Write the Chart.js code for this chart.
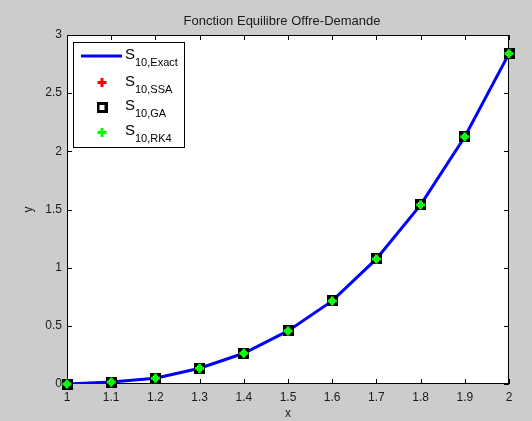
<!DOCTYPE html>
<html>
<head>
<meta charset="utf-8">
<script src="https://cdn.jsdelivr.net/npm/chart.js@4.4.0/dist/chart.umd.min.js"></script>
<style>
    html, body { margin: 0; padding: 0; background: #cccccc; }
    #wrap { width: 532px; height: 421px; }
</style>
</head>
<body>
<div id="wrap"><canvas id="chart" width="532" height="421"></canvas></div>
<script>
// values
const xValues = [1.0, 1.1, 1.2, 1.3, 1.4, 1.5, 1.6, 1.7, 1.8, 1.9, 2.0];
const exactValues = [0.0, 0.017, 0.05, 0.135, 0.264, 0.456, 0.714, 1.075, 1.54, 2.125, 2.84];
const ssaValues = [0.0, 0.017, 0.05, 0.135, 0.264, 0.456, 0.714, 1.075, 1.54, 2.125, 2.84];
const gaValues = [0.0, 0.017, 0.05, 0.135, 0.264, 0.456, 0.714, 1.075, 1.54, 2.125, 2.84];
const rk4Values = [0.0, 0.017, 0.05, 0.135, 0.264, 0.456, 0.714, 1.075, 1.54, 2.125, 2.84];

const chartTitle = 'Fonction Equilibre Offre-Demande';
const legendNames = [['S', '10,Exact'], ['S', '10,SSA'], ['S', '10,GA'], ['S', '10,RK4']];

const FONT = '"Liberation Sans", Arial, sans-serif';
const TEXT_COLOR = '#1a1a1a';

const toPoints = ys => xValues.map((x, i) => ({ x: x, y: ys[i] }));

function plusMarker(color) {
    const c = document.createElement('canvas');
    c.width = 11; c.height = 11;
    const g = c.getContext('2d');
    g.fillStyle = color;
    g.beginPath();
    g.moveTo(4, 1); g.lineTo(7, 1); g.lineTo(7, 4); g.lineTo(10, 4);
    g.lineTo(10, 7); g.lineTo(7, 7); g.lineTo(7, 10); g.lineTo(4, 10);
    g.lineTo(4, 7); g.lineTo(1, 7); g.lineTo(1, 4); g.lineTo(4, 4);
    g.closePath();
    g.fill();
    return c;
}

function squareMarker() {
    const c = document.createElement('canvas');
    c.width = 11; c.height = 11;
    const g = c.getContext('2d');
    g.fillStyle = '#000000';
    g.fillRect(0, 0, 11, 11);
    g.fillStyle = '#ffffff';
    g.fillRect(3, 3, 5, 5);
    return c;
}

const markers = {
    ssa: plusMarker('#ff0000'),
    ga: squareMarker(),
    rk4: plusMarker('#00ff00')
};

// grey figure, white axes, box and inward ticks like MATLAB
const axesBox = {
    id: 'axesBox',
    beforeDraw(chart) {
        const { ctx, chartArea: a } = chart;
        ctx.save();
        ctx.fillStyle = '#cccccc';
        ctx.fillRect(0, 0, chart.width, chart.height);
        ctx.fillStyle = '#ffffff';
        ctx.fillRect(a.left, a.top, a.right - a.left, a.bottom - a.top);
        ctx.fillStyle = TEXT_COLOR;
        ctx.font = '13px ' + FONT;
        ctx.textAlign = 'center';
        ctx.textBaseline = 'middle';
        ctx.fillText(chartTitle, 282, 21);
        ctx.restore();
    },
    beforeDatasetsDraw(chart) {
        const { ctx, chartArea: a, scales } = chart;
        ctx.save();
        ctx.strokeStyle = '#000000';
        ctx.lineWidth = 1;
        ctx.beginPath();
        scales.x.ticks.forEach(t => {
            const px = Math.round(scales.x.getPixelForValue(t.value)) + 0.5;
            ctx.moveTo(px, a.bottom); ctx.lineTo(px, a.bottom - 5);
            ctx.moveTo(px, a.top); ctx.lineTo(px, a.top + 5);
        });
        scales.y.ticks.forEach(t => {
            const py = Math.round(scales.y.getPixelForValue(t.value)) + 0.5;
            ctx.moveTo(a.left, py); ctx.lineTo(a.left + 5, py);
            ctx.moveTo(a.right, py); ctx.lineTo(a.right - 5, py);
        });
        ctx.stroke();
        ctx.strokeRect(a.left + 0.5, a.top + 0.5, a.right - a.left - 1, a.bottom - a.top - 1);
        ctx.restore();
    }
};

const subLegend = {
    id: 'subLegend',
    afterDraw(chart) {
        const ctx = chart.ctx;
        const box = { x: 73.5, y: 42.5, w: 111, h: 105 };
        const rows = [56, 82.5, 107, 132];
        ctx.save();
        ctx.fillStyle = '#ffffff';
        ctx.fillRect(box.x, box.y, box.w, box.h);
        ctx.strokeStyle = '#000000';
        ctx.lineWidth = 1;
        ctx.strokeRect(box.x, box.y, box.w, box.h);

        rows.forEach((cy, i) => {
            const ds = chart.data.datasets[i];
            if (i === 0) {
                ctx.strokeStyle = ds.borderColor;
                ctx.lineWidth = ds.borderWidth;
                ctx.beginPath();
                ctx.moveTo(81, cy);
                ctx.lineTo(122, cy);
                ctx.stroke();
            } else {
                const img = ds.pointStyle;
                ctx.drawImage(img, 102 - img.width / 2, Math.round(cy - img.height / 2));
            }
            ctx.fillStyle = '#000000';
            ctx.textAlign = 'left';
            ctx.textBaseline = 'alphabetic';
            ctx.font = '15px ' + FONT;
            ctx.fillText(legendNames[i][0], 125, cy + 3);
            ctx.font = '11px ' + FONT;
            ctx.fillText(legendNames[i][1], 135, cy + 10);
        });
        ctx.restore();
    }
};

const tickFont = { family: FONT, size: 12 };

new Chart(document.getElementById('chart'), {
    type: 'line',
    data: {
        datasets: [
            {
                label: 'S10,Exact',
                data: toPoints(exactValues),
                borderColor: '#0000ff',
                borderWidth: 3,
                pointRadius: 0,
                tension: 0,
                fill: false,
                order: 4
            },
            {
                label: 'S10,SSA',
                data: toPoints(ssaValues),
                showLine: false,
                pointStyle: markers.ssa,
                clip: false,
                order: 3
            },
            {
                label: 'S10,GA',
                data: toPoints(gaValues),
                showLine: false,
                pointStyle: markers.ga,
                clip: false,
                order: 2
            },
            {
                label: 'S10,RK4',
                data: toPoints(rk4Values),
                showLine: false,
                pointStyle: markers.rk4,
                clip: false,
                order: 1
            }
        ]
    },
    options: {
        responsive: false,
        animation: false,
        events: [],
        layout: { padding: { top: 35, right: 23, left: 0, bottom: 0 } },
        plugins: {
            legend: { display: false },
            title: { display: false },
            tooltip: { enabled: false }
        },
        scales: {
            x: {
                type: 'linear',
                min: 1,
                max: 2,
                ticks: {
                    stepSize: 0.1,
                    color: TEXT_COLOR,
                    font: tickFont,
                    padding: 6,
                    maxRotation: 0,
                    callback: v => String(+v.toFixed(1))
                },
                grid: { display: false, drawTicks: false },
                border: { display: false },
                title: { display: true, text: 'x', color: TEXT_COLOR, font: tickFont, padding: { top: 0, bottom: 0 } },
                afterFit: s => { s.height = 37; }
            },
            y: {
                type: 'linear',
                min: 0,
                max: 3,
                ticks: {
                    stepSize: 0.5,
                    color: TEXT_COLOR,
                    font: tickFont,
                    padding: 5,
                    callback: v => String(+v.toFixed(1))
                },
                grid: { display: false, drawTicks: false },
                border: { display: false },
                title: { display: true, text: 'y', color: TEXT_COLOR, font: tickFont, padding: { top: 21, bottom: 0 } },
                afterFit: s => { s.width = 67; }
            }
        }
    },
    plugins: [axesBox, subLegend]
});
</script>
</body>
</html>
